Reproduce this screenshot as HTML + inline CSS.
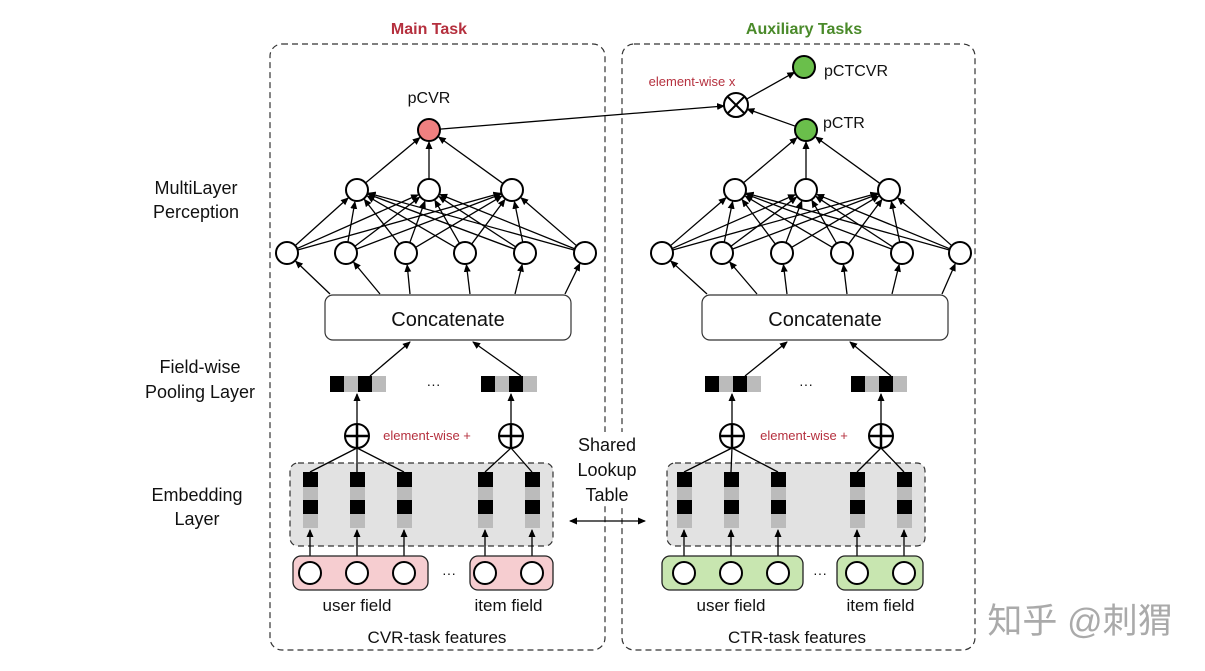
<!DOCTYPE html>
<html><head><meta charset="utf-8"><style>
body{margin:0;background:#fff;width:1205px;height:671px;overflow:hidden}
svg{display:block}
text{font-family:"Liberation Sans","Noto Sans CJK SC",sans-serif}
</style></head><body>
<svg id="s" width="1205" height="671" viewBox="0 0 1205 671" xmlns="http://www.w3.org/2000/svg">
<defs><marker id="a" markerWidth="8" markerHeight="8" refX="7" refY="4" orient="auto-start-reverse" markerUnits="userSpaceOnUse"><path d="M0,0.5 L8,4 L0,7.5z" fill="#000"/></marker></defs>
<text x="429" y="34" text-anchor="middle" font-size="16" font-weight="bold" fill="#b5303e">Main Task</text>
<text x="804" y="34" text-anchor="middle" font-size="16" font-weight="bold" fill="#4a8a2a">Auxiliary Tasks</text>
<g font-size="18" fill="#111" text-anchor="middle">
<text x="196" y="194">MultiLayer</text><text x="196" y="218">Perception</text>
<text x="200" y="373">Field-wise</text><text x="200" y="398">Pooling Layer</text>
<text x="197" y="501">Embedding</text><text x="197" y="525">Layer</text>
</g>
<text x="1080" y="633" text-anchor="middle" font-size="35" fill="#aaa">知乎 @刺猬</text>
<g id="g"></g>
<rect x="574" y="432" width="66" height="74" fill="#fff"/>
<g font-size="18" fill="#111" text-anchor="middle">
<text x="607" y="451">Shared</text><text x="607" y="476">Lookup</text><text x="607" y="501">Table</text>
</g>
<line x1="570" y1="521" x2="645" y2="521" stroke="#000" stroke-width="1.3" marker-end="url(#a)" marker-start="url(#a)"/>
</svg>
<script>
const g=document.getElementById('g');let h='';
function L(x1,y1,x2,y2,arr,w){h+=`<line x1="${x1}" y1="${y1}" x2="${x2}" y2="${y2}" stroke="#000" stroke-width="${w||1.3}" ${arr?'marker-end="url(#a)"':''}/>`}
function C(x,y,r,f){h+=`<circle cx="${x}" cy="${y}" r="${r}" fill="${f}" stroke="#000" stroke-width="2"/>`}
function T(x,y,s,sz,c,a){h+=`<text x="${x}" y="${y}" font-size="${sz}" fill="${c||'#111'}" text-anchor="${a||'middle'}">${s}</text>`}
function arrowTo(x1,y1,x2,y2,r1,r2){const d=Math.hypot(x2-x1,y2-y1),ux=(x2-x1)/d,uy=(y2-y1)/d;L(x1+ux*r1,y1+uy*r1,x2-ux*r2,y2-uy*r2,true)}
function panel(o,top,hid,bot,topFill,grp,emb,feat,featFill,fx){
 const bx=[270,622][o];
 h+=`<rect x="${bx}" y="44" width="${o?353:335}" height="606" rx="12" fill="none" stroke="#333" stroke-width="1.2" stroke-dasharray="6,4"/>`;
 for(const b of bot)for(const m of hid)arrowTo(b,253,m,190,11,12);
 for(const m of hid)arrowTo(m,190,top,130,11,12);
 hid.forEach(m=>C(m,190,11,'#fff'));bot.forEach(b=>C(b,253,11,'#fff'));C(top,130,11,topFill);
 const cx=o?702:325;
 h+=`<rect x="${cx}" y="295" width="246" height="45" rx="8" fill="#fff" stroke="#333" stroke-width="1.2"/>`;
 T(cx+123,326,'Concatenate',20);
 const pts=[cx+5,cx+55,cx+85,cx+145,cx+190,cx+240];
 bot.forEach((b,i)=>arrowTo(pts[i],294,b,253,0,12));
 grp.forEach((gx,i)=>{for(let k=0;k<4;k++)h+=`<rect x="${gx+k*14}" y="376" width="14" height="16" fill="${k%2?'#bbb':'#000'}"/>`;
   L(gx+40,376,i==0?cx+85:cx+148,342,true);});
 T((grp[0]+grp[1]+56)/2,389,'···',14);
 const plus=[grp[0]+27,grp[1]+30];
 plus.forEach((p,i)=>{L(p,424,p,394,true);C(p,436,12,'#fff');L(p-12,436,p+12,436,false,2.5);L(p,424,p,448,false,2.5);});
 h+=`<rect x="${emb[0]}" y="463" width="${emb[1]}" height="83" rx="8" fill="#e2e2e2" stroke="#333" stroke-width="1.2" stroke-dasharray="6,4"/>`;
 feat.forEach((x,i)=>{const p=i<3?plus[0]:plus[1];L(x,472,p,448);
  [['#000',472,15],['#bbb',487,13],['#000',500,14],['#bbb',514,14]].forEach(c=>h+=`<rect x="${x-7}" y="${c[1]}" width="15" height="${c[2]}" fill="${c[0]}"/>`);
  L(x,562,x,530,true);});
 h+=`<rect x="${fx[0]}" y="556" width="${fx[1]}" height="34" rx="8" fill="${featFill}" stroke="#222" stroke-width="1.3"/>`;
 h+=`<rect x="${fx[2]}" y="556" width="${fx[3]}" height="34" rx="8" fill="${featFill}" stroke="#222" stroke-width="1.3"/>`;
 feat.forEach(x=>C(x,573,11,'#fff'));
 T((fx[0]+fx[1]+fx[2])/2,578,'···',14);
 T((feat[0]+feat[2])/2,611,'user field',17);T((feat[3]+feat[4])/2,611,'item field',17);
 T(o?797:437,643,o?'CTR-task features':'CVR-task features',17);
 T(o?804:427,440,'element-wise +',13,'#b5303e');
}
panel(0,429,[357,429,512],[287,346,406,465,525,585],'#f08080',[330,481],[290,263],[310,357,404,485,532],'#f6cdd0',[293,135,470,83]);
panel(1,806,[735,806,889],[662,722,782,842,902,960],'#6abf4b',[705,851],[667,258],[684,731,778,857,904],'#c8e6b0',[662,141,837,86]);
T(429,103,'pCVR',16);T(823,128,'pCTR',16,'#111','start');T(824,76,'pCTCVR',16,'#111','start');
arrowTo(429,130,736,105,11,12);arrowTo(806,130,736,105,11,12);arrowTo(736,105,804,67,12,11);
C(736,105,12,'#fff');L(728,97,744,113,false,2);L(744,97,728,113,false,2);C(804,67,11,'#6abf4b');
T(692,86,'element-wise x',13,'#b5303e');
g.innerHTML=h;
</script>
</body></html>
